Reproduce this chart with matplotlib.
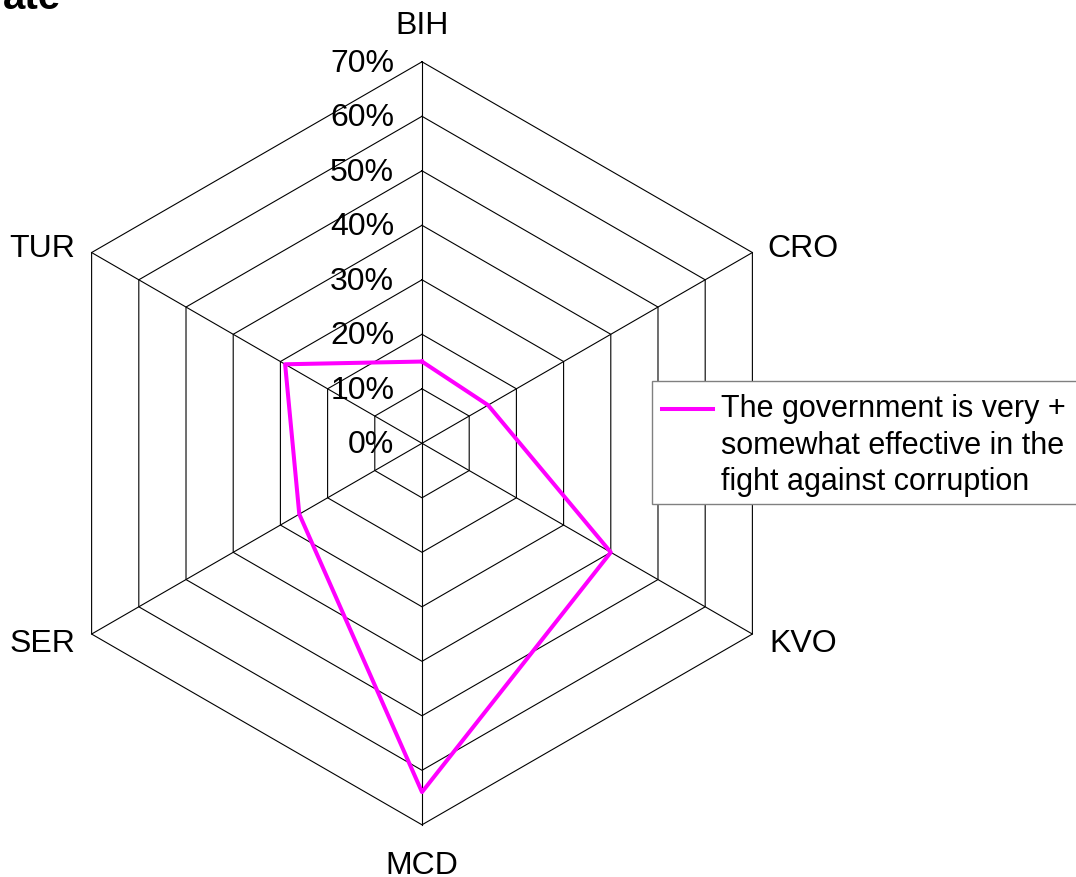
import numpy as np
import matplotlib
matplotlib.use('Agg')
import matplotlib.pyplot as plt
from matplotlib.patches import Rectangle
from matplotlib.lines import Line2D

# data
categories = ['BIH', 'CRO', 'KVO', 'MCD', 'SER', 'TUR']
values = [15, 14, 40, 64, 26, 29]
rings = [0, 10, 20, 30, 40, 50, 60, 70]
ring_labels = ['0%', '10%', '20%', '30%', '40%', '50%', '60%', '70%']
series_name = 'The government is very +\nsomewhat effective in the\nfight against corruption'

plt.rcParams['font.family'] = ['Liberation Sans', 'DejaVu Sans']

W, H = 1076, 877
cx, cy = 422, 443.3      # centre in pixels
scale = 5.45             # pixels per percent

fig = plt.figure(figsize=(W / 100, H / 100), dpi=100)
ax = fig.add_axes([0, 0, 1, 1])
ax.set_xlim(-cx / scale, (W - cx) / scale)
ax.set_ylim(-(H - cy) / scale, cy / scale)
ax.axis('off')

# clockwise from the top
angles = np.pi / 2 - np.arange(len(categories)) * 2 * np.pi / len(categories)
ux, uy = np.cos(angles), np.sin(angles)

# hexagon rings
for r in rings[1:]:
    ax.plot(np.append(r * ux, r * ux[0]), np.append(r * uy, r * uy[0]),
            color='black', lw=0.8, zorder=1)
# spokes
rmax = rings[-1]
for x, y in zip(ux, uy):
    ax.plot([0, rmax * x], [0, rmax * y], color='black', lw=0.8, zorder=1)

# ring labels
for r, lab in zip(rings, ring_labels):
    ax.text(-5.1, r + 0.3, lab, ha='right', va='center_baseline', fontsize=23, zorder=3)

# category labels
offsets = {'BIH': (0, 28, 'center'), 'CRO': (11, 5.4, 'left'),
           'KVO': (12, -4.3, 'left'), 'MCD': (0, -27.5, 'center'),
           'SER': (-12, -4.3, 'right'), 'TUR': (-12, 5.4, 'right')}
for cat, x, y in zip(categories, ux, uy):
    dx, dy, ha = offsets[cat]
    ax.annotate(cat, (rmax * x, rmax * y), xytext=(dx, dy), textcoords='offset points',
                ha=ha, va='center_baseline', fontsize=23)

# series
vals = np.array(values)
ax.plot(np.append(vals * ux, vals[0] * ux[0]), np.append(vals * uy, vals[0] * uy[0]),
        color='#FF00FF', lw=2.9, zorder=2)

# legend box (runs past the right edge, like the reference)
def fx(px):
    return px / W

def fy(py):
    return 1 - py / H

fig.add_artist(Rectangle((fx(652), fy(504)), fx(1095) - fx(652), fy(381) - fy(504),
                         transform=fig.transFigure, facecolor='white',
                         edgecolor='#808080', lw=1.0, clip_on=False, zorder=5))
fig.add_artist(Line2D([fx(662), fx(713)], [fy(409), fy(409)], transform=fig.transFigure,
                      color='#FF00FF', lw=2.9, zorder=6))
for i, line in enumerate(series_name.split('\n')):
    fig.text(fx(721), fy(417 + i * 36.5), line, ha='left', va='baseline',
             fontsize=22, zorder=6)

# partially visible title at the top left
fig.text(61 / W, 1 - 9 / H, 'ate', ha='right', va='baseline',
         fontsize=29, fontweight='bold')

fig.savefig('out.png', dpi=100)
